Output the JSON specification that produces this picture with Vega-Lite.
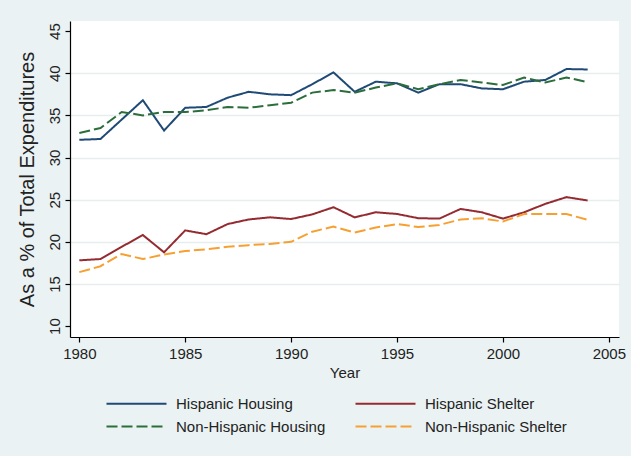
{
  "$schema": "https://vega.github.io/schema/vega-lite/v6.json",
  "width": 549,
  "height": 316,
  "autosize": {"type": "none"},
  "padding": {"left": 70, "top": 21, "right": 12, "bottom": 119},
  "background": "#eaf2f3",
  "config": {"view": {"fill": "white", "stroke": null}, "font": "Liberation Sans"},
  "data": {"values": [
    {"year": 1980, "series": "Hispanic Housing", "value": 32.1},
    {"year": 1981, "series": "Hispanic Housing", "value": 32.2},
    {"year": 1982, "series": "Hispanic Housing", "value": 34.5},
    {"year": 1983, "series": "Hispanic Housing", "value": 36.8},
    {"year": 1984, "series": "Hispanic Housing", "value": 33.2},
    {"year": 1985, "series": "Hispanic Housing", "value": 35.9},
    {"year": 1986, "series": "Hispanic Housing", "value": 36.0},
    {"year": 1987, "series": "Hispanic Housing", "value": 37.1},
    {"year": 1988, "series": "Hispanic Housing", "value": 37.8},
    {"year": 1989, "series": "Hispanic Housing", "value": 37.5},
    {"year": 1990, "series": "Hispanic Housing", "value": 37.4},
    {"year": 1991, "series": "Hispanic Housing", "value": 38.7},
    {"year": 1992, "series": "Hispanic Housing", "value": 40.1},
    {"year": 1993, "series": "Hispanic Housing", "value": 37.8},
    {"year": 1994, "series": "Hispanic Housing", "value": 39.0},
    {"year": 1995, "series": "Hispanic Housing", "value": 38.8},
    {"year": 1996, "series": "Hispanic Housing", "value": 37.7},
    {"year": 1997, "series": "Hispanic Housing", "value": 38.7},
    {"year": 1998, "series": "Hispanic Housing", "value": 38.7},
    {"year": 1999, "series": "Hispanic Housing", "value": 38.2},
    {"year": 2000, "series": "Hispanic Housing", "value": 38.1},
    {"year": 2001, "series": "Hispanic Housing", "value": 39.0},
    {"year": 2002, "series": "Hispanic Housing", "value": 39.2},
    {"year": 2003, "series": "Hispanic Housing", "value": 40.5},
    {"year": 2004, "series": "Hispanic Housing", "value": 40.45},
    {"year": 1980, "series": "Non-Hispanic Housing", "value": 32.9},
    {"year": 1981, "series": "Non-Hispanic Housing", "value": 33.5},
    {"year": 1982, "series": "Non-Hispanic Housing", "value": 35.4},
    {"year": 1983, "series": "Non-Hispanic Housing", "value": 35.0},
    {"year": 1984, "series": "Non-Hispanic Housing", "value": 35.4},
    {"year": 1985, "series": "Non-Hispanic Housing", "value": 35.4},
    {"year": 1986, "series": "Non-Hispanic Housing", "value": 35.6},
    {"year": 1987, "series": "Non-Hispanic Housing", "value": 36.0},
    {"year": 1988, "series": "Non-Hispanic Housing", "value": 35.9},
    {"year": 1989, "series": "Non-Hispanic Housing", "value": 36.2},
    {"year": 1990, "series": "Non-Hispanic Housing", "value": 36.5},
    {"year": 1991, "series": "Non-Hispanic Housing", "value": 37.7},
    {"year": 1992, "series": "Non-Hispanic Housing", "value": 38.0},
    {"year": 1993, "series": "Non-Hispanic Housing", "value": 37.7},
    {"year": 1994, "series": "Non-Hispanic Housing", "value": 38.3},
    {"year": 1995, "series": "Non-Hispanic Housing", "value": 38.8},
    {"year": 1996, "series": "Non-Hispanic Housing", "value": 38.1},
    {"year": 1997, "series": "Non-Hispanic Housing", "value": 38.7},
    {"year": 1998, "series": "Non-Hispanic Housing", "value": 39.2},
    {"year": 1999, "series": "Non-Hispanic Housing", "value": 38.9},
    {"year": 2000, "series": "Non-Hispanic Housing", "value": 38.6},
    {"year": 2001, "series": "Non-Hispanic Housing", "value": 39.5},
    {"year": 2002, "series": "Non-Hispanic Housing", "value": 38.9},
    {"year": 2003, "series": "Non-Hispanic Housing", "value": 39.5},
    {"year": 2004, "series": "Non-Hispanic Housing", "value": 38.95},
    {"year": 1980, "series": "Hispanic Shelter", "value": 17.8},
    {"year": 1981, "series": "Hispanic Shelter", "value": 17.95},
    {"year": 1982, "series": "Hispanic Shelter", "value": 19.4},
    {"year": 1983, "series": "Hispanic Shelter", "value": 20.8},
    {"year": 1984, "series": "Hispanic Shelter", "value": 18.75},
    {"year": 1985, "series": "Hispanic Shelter", "value": 21.35},
    {"year": 1986, "series": "Hispanic Shelter", "value": 20.9},
    {"year": 1987, "series": "Hispanic Shelter", "value": 22.1},
    {"year": 1988, "series": "Hispanic Shelter", "value": 22.65},
    {"year": 1989, "series": "Hispanic Shelter", "value": 22.9},
    {"year": 1990, "series": "Hispanic Shelter", "value": 22.7},
    {"year": 1991, "series": "Hispanic Shelter", "value": 23.25},
    {"year": 1992, "series": "Hispanic Shelter", "value": 24.1},
    {"year": 1993, "series": "Hispanic Shelter", "value": 22.9},
    {"year": 1994, "series": "Hispanic Shelter", "value": 23.5},
    {"year": 1995, "series": "Hispanic Shelter", "value": 23.3},
    {"year": 1996, "series": "Hispanic Shelter", "value": 22.8},
    {"year": 1997, "series": "Hispanic Shelter", "value": 22.75},
    {"year": 1998, "series": "Hispanic Shelter", "value": 23.9},
    {"year": 1999, "series": "Hispanic Shelter", "value": 23.5},
    {"year": 2000, "series": "Hispanic Shelter", "value": 22.75},
    {"year": 2001, "series": "Hispanic Shelter", "value": 23.5},
    {"year": 2002, "series": "Hispanic Shelter", "value": 24.5},
    {"year": 2003, "series": "Hispanic Shelter", "value": 25.3},
    {"year": 2004, "series": "Hispanic Shelter", "value": 24.9},
    {"year": 1980, "series": "Non-Hispanic Shelter", "value": 16.4},
    {"year": 1981, "series": "Non-Hispanic Shelter", "value": 17.1},
    {"year": 1982, "series": "Non-Hispanic Shelter", "value": 18.55},
    {"year": 1983, "series": "Non-Hispanic Shelter", "value": 17.95},
    {"year": 1984, "series": "Non-Hispanic Shelter", "value": 18.5},
    {"year": 1985, "series": "Non-Hispanic Shelter", "value": 18.9},
    {"year": 1986, "series": "Non-Hispanic Shelter", "value": 19.1},
    {"year": 1987, "series": "Non-Hispanic Shelter", "value": 19.4},
    {"year": 1988, "series": "Non-Hispanic Shelter", "value": 19.6},
    {"year": 1989, "series": "Non-Hispanic Shelter", "value": 19.75},
    {"year": 1990, "series": "Non-Hispanic Shelter", "value": 20.0},
    {"year": 1991, "series": "Non-Hispanic Shelter", "value": 21.2},
    {"year": 1992, "series": "Non-Hispanic Shelter", "value": 21.8},
    {"year": 1993, "series": "Non-Hispanic Shelter", "value": 21.1},
    {"year": 1994, "series": "Non-Hispanic Shelter", "value": 21.7},
    {"year": 1995, "series": "Non-Hispanic Shelter", "value": 22.1},
    {"year": 1996, "series": "Non-Hispanic Shelter", "value": 21.75},
    {"year": 1997, "series": "Non-Hispanic Shelter", "value": 22.0},
    {"year": 1998, "series": "Non-Hispanic Shelter", "value": 22.65},
    {"year": 1999, "series": "Non-Hispanic Shelter", "value": 22.8},
    {"year": 2000, "series": "Non-Hispanic Shelter", "value": 22.4},
    {"year": 2001, "series": "Non-Hispanic Shelter", "value": 23.3},
    {"year": 2002, "series": "Non-Hispanic Shelter", "value": 23.3},
    {"year": 2003, "series": "Non-Hispanic Shelter", "value": 23.3},
    {"year": 2004, "series": "Non-Hispanic Shelter", "value": 22.6}
  ]},
  "mark": {"type": "line", "strokeWidth": 2},
  "encoding": {
    "x": {
      "field": "year", "type": "quantitative",
      "scale": {"domain": [1979.56, 2005.48], "nice": false, "zero": false},
      "axis": {
        "values": [1980, 1985, 1990, 1995, 2000, 2005], "format": "d",
        "title": "Year", "grid": false,
        "domainColor": "black", "domainWidth": 1.2, "tickColor": "black", "tickSize": 5, "tickWidth": 1.2,
        "labelFontSize": 15, "labelColor": "#222", "labelPadding": 4, "labelFlush": false,
        "titleFontSize": 15, "titleFontWeight": "normal", "titleColor": "#222", "titlePadding": 4
      }
    },
    "y": {
      "field": "value", "type": "quantitative",
      "scale": {"domain": [8.7, 46.2], "nice": false, "zero": false},
      "axis": {
        "values": [10, 15, 20, 25, 30, 35, 40, 45],
        "title": "As a % of Total Expenditures",
        "titleFontSize": 20, "titleFontWeight": "normal", "titleColor": "#222", "titlePadding": 10,
        "labelAngle": 270, "labelAlign": "center", "labelBaseline": "bottom", "labelPadding": 3,
        "labelFontSize": 15, "labelColor": "#222",
        "domainColor": "black", "domainWidth": 1.2, "tickColor": "black", "tickSize": 5, "tickWidth": 1.2,
        "grid": true, "gridColor": "#e6eef0", "gridWidth": 1.5,
        "gridOpacity": {"condition": {"test": "datum.value === 10 || datum.value === 45", "value": 0}, "value": 1}
      }
    },
    "color": {
      "field": "series", "type": "nominal",
      "scale": {
        "domain": ["Hispanic Housing", "Hispanic Shelter", "Non-Hispanic Housing", "Non-Hispanic Shelter"],
        "range": ["#1f4a75", "#952b31", "#2b6e3b", "#f7a032"]
      },
      "legend": {
        "title": null, "orient": "none", "legendX": 53, "legendY": 375,
        "direction": "horizontal", "columns": 2,
        "symbolType": "M-4,0H6", "symbolSize": 144, "symbolStrokeWidth": 2,
        "labelFontSize": 15, "labelColor": "#222", "labelOffset": 38, "labelLimit": 300,
        "columnPadding": 25, "rowPadding": 7
      }
    },
    "strokeDash": {
      "field": "series", "type": "nominal",
      "scale": {
        "domain": ["Hispanic Housing", "Hispanic Shelter", "Non-Hispanic Housing", "Non-Hispanic Shelter"],
        "range": [[1, 0], [1, 0], [11, 4], [11, 4]]
      },
      "legend": {
        "title": null, "orient": "none", "legendX": 53, "legendY": 375,
        "direction": "horizontal", "columns": 2,
        "symbolType": "M-4,0H6", "symbolSize": 144, "symbolStrokeWidth": 2,
        "labelFontSize": 15, "labelColor": "#222", "labelOffset": 38, "labelLimit": 300,
        "columnPadding": 25, "rowPadding": 7
      }
    }
  }
}
